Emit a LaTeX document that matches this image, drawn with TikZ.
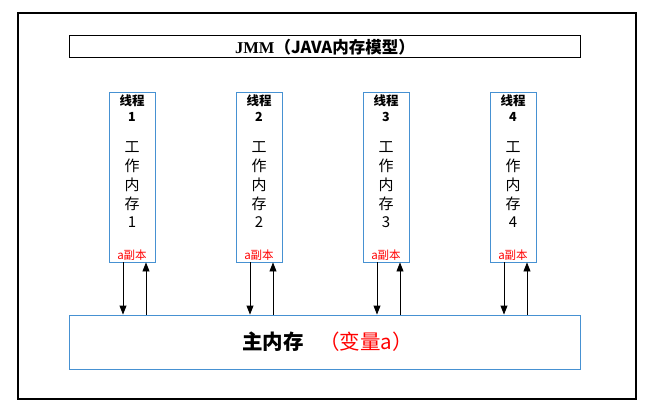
\documentclass[tikz,border=0pt]{standalone}
\usepackage{fontspec}
\setmainfont{Liberation Serif}
\newfontfamily\cjk{Noto Sans CJK SC}
\usetikzlibrary{arrows.meta}
\definecolor{boxblue}{RGB}{70,145,210}
\tikzset{
  x=1pt, y=-1pt,
  threadbox/.style={draw=boxblue, line width=0.9pt, minimum width=46pt, minimum height=170pt, inner sep=0pt},
  hdr/.style={font=\cjk\bfseries\fontsize{12.5}{13}\selectfont, inner sep=0pt},
  vch/.style={font=\cjk\fontsize{15}{16}\selectfont, inner sep=0pt},
  copy/.style={font=\cjk\fontsize{11.5}{12}\selectfont, text=red, inner sep=0pt},
  arr/.style={-{Triangle[width=7pt,length=9pt]}, line width=0.9pt, black},
}
\begin{document}
\begin{tikzpicture}
\useasboundingbox (0,0) rectangle (659,417);
\node[draw=black, line width=1.2pt, minimum width=618pt, minimum height=386pt, inner sep=0pt] (frame) at (327,206) {};
\node[draw=black, line width=1pt, minimum width=511pt, minimum height=22pt, inner sep=0pt] (title) at (325,47)
  {\bfseries\fontsize{16.5}{17}\selectfont JMM{\cjk（JAVA内存模型）}};
\node[draw=boxblue, line width=0.9pt, minimum width=511pt, minimum height=54pt, inner sep=0pt] (mem) at (325,342) {};
\node[font=\cjk\bfseries\fontsize{20.5}{21}\selectfont, inner sep=0pt] (memtxt) at (273,342) {主内存};
\node[font=\cjk\fontsize{20.5}{21}\selectfont, text=red, inner sep=0pt] (vartxt) at (366,342) {（变量a）};
\foreach \i in {1,2,3,4} {
  \pgfmathsetmacro{\cx}{132+127*(\i-1)}
  \node[threadbox] (t\i) at (\cx,177) {};
  \node[hdr] (h\i) at (\cx,101) {线程};
  \node[hdr] (n\i) at (\cx,117) {\i};
  \node[vch] (c1\i) at (\cx,147) {工};
  \node[vch] (c2\i) at (\cx,166) {作};
  \node[vch] (c3\i) at (\cx,185) {内};
  \node[vch] (c4\i) at (\cx,204) {存};
  \node[vch] (c5\i) at (\cx,222) {\i};
  \node[copy] (cp\i) at (\cx,255) {a副本};
  \coordinate (d\i) at ([xshift=-9pt]t\i.south);
  \coordinate (u\i) at ([xshift=14pt]t\i.south);
  \draw[arr] (d\i) -- (d\i |- mem.north);
  \draw[arr] (u\i |- mem.north) -- (u\i);
}
\end{tikzpicture}
\end{document}
